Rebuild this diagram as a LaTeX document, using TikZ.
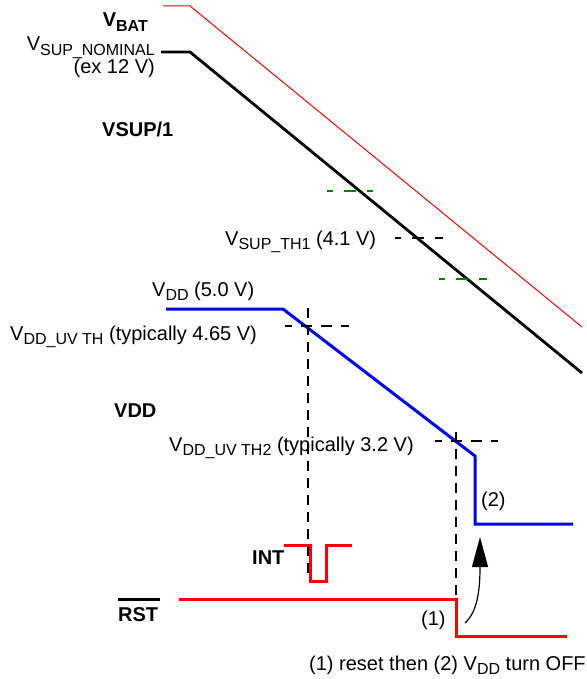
\documentclass[tikz,border=0pt]{standalone}
\usepackage{fontspec}
\setmainfont{Liberation Sans}
\usetikzlibrary{arrows.meta, calc}
\definecolor{markgreen}{RGB}{0,128,0}
% lowered subscript in the label font
\newcommand{\lsub}[1]{\raisebox{-4.5pt}{\fontsize{16}{16}\selectfont #1}}

\begin{document}
\begin{tikzpicture}[
    x=1pt, y=-1pt,
    every node/.style={font=\fontsize{20}{24}\selectfont, inner sep=0pt},
    % Signal traces
    vbat/.style={red, line width=1pt},
    vsup/.style={black, line width=2.8pt},
    vdd/.style={blue, line width=3pt},
    logic/.style={red, line width=3pt},
    % Threshold marks
    thmark/.style={line width=2pt, dash pattern=on 12pt off 11pt, dash phase=6pt},
    cross/.style={black, line width=2pt, dash pattern=on 11pt off 9pt, dash phase=4pt},
    guide/.style={black, line width=2pt, dash pattern=on 10pt off 7pt},
    lbl/.style={anchor=base west},
    lblr/.style={anchor=base east}
]
\useasboundingbox (0,0) rectangle (586,679);

% === SUPPLY TRACES ===

% VBAT (thin red)
\coordinate (bat0) at (163,6);
\coordinate (bat1) at (190,6);
\coordinate (bat2) at (582,327);
\draw[vbat] (bat0) -- (bat1) -- (bat2);

% VSUP (black)
\coordinate (sup0) at (161,52);
\coordinate (sup1) at (190,52);
\coordinate (sup2) at (582,373);
\draw[vsup] (sup0) -- (sup1) -- (sup2);

% Thresholds on VSUP
\coordinate (gA0) at (327,191);
\coordinate (gA1) at (373,191);
\coordinate (th0) at (395,238);
\coordinate (th1) at (443,238);
\coordinate (gB0) at (439,279);
\coordinate (gB1) at (487,279);
\draw[thmark, markgreen] (gA0) -- (gA1);
\draw[thmark, black] (th0) -- (th1);
\draw[thmark, markgreen] (gB0) -- (gB1);

% VDD (blue)
\coordinate (dd0) at (166,309);
\coordinate (dd1) at (283,309);
\coordinate (dd2) at (475,456);
\coordinate (dd3) at (475,524);
\coordinate (dd4) at (573,524);
\draw[vdd] (dd0) -- (dd1) -- (dd2) -- (dd3) -- (dd4);

% === UNDERVOLTAGE CROSSINGS ===

% first threshold
\coordinate (uvA0) at (285,326);
\coordinate (uvA1) at (349,326);
\coordinate (uvAtop) at (308,308);
\coordinate (uvAbot) at (308,578);
\draw[cross] (uvA0) -- (uvA1);
\draw[guide] (uvAtop) -- (uvAbot);

% second threshold
\coordinate (uvB0) at (435,441);
\coordinate (uvB1) at (498,441);
\coordinate (uvBtop) at (456,432);
\coordinate (uvBbot) at (456,603);
\draw[cross] (uvB0) -- (uvB1);
\draw[guide] (uvBtop) -- (uvBbot);

% === LOGIC OUTPUTS ===

% INT pulse
\coordinate (int0) at (284,545);
\coordinate (int1) at (310,545);
\coordinate (int2) at (310,581);
\coordinate (int3) at (326,581);
\coordinate (int4) at (326,545);
\coordinate (int5) at (352,545);
\draw[logic] (int0) -- (int1) -- (int2) -- (int3) -- (int4) -- (int5);

% RST falling edge
\coordinate (rst0) at (179,599);
\coordinate (rst1) at (456,599);
\coordinate (rst2) at (456,636);
\coordinate (rst3) at (567,636);
\draw[logic] (rst0) -- (rst1) -- (rst2) -- (rst3);

% sequence arrow (1) -> (2)
\coordinate (seqS) at (465,623);
\coordinate (seqE) at (480,537);
\draw[line width=1.2pt, -{Triangle[length=30pt, width=16pt]}]
    (seqS) .. controls (477,612) and (480,592) .. (seqE);

% === LABELS ===
\node[lblr] (lbat) at (148,27) {\textbf{V\lsub{BAT}}};
\node[lblr] (lnom) at (155,51) {V\lsub{SUP\_NOMINAL}};
\node[lblr] (lex) at (155,74) {(ex 12 V)};
\node[lbl] (lsup) at (102,137) {\textbf{VSUP/1}};
\node[lbl] (lth1) at (225,245) {V\lsub{SUP\_TH1} (4.1 V)};
\node[lbl] (ldd) at (152,296) {V\lsub{DD} (5.0 V)};
\node[lbl] (luv) at (10,340) {V\lsub{DD\_UV TH} (typically 4.65 V)};
\node[lbl] (lvdd) at (114,417) {\textbf{VDD}};
\node[lbl] (luv2) at (169,451) {V\lsub{DD\_UV TH2} (typically 3.2 V)};
\node[lbl] (ltwo) at (481,506) {(2)};
\node[lbl] (lint) at (252,564) {\textbf{INT}};
\node[lbl] (lrst) at (118,621) {\textbf{RST}};
\draw[line width=3pt] ($(lrst.north west)+(0,-7)$) -- ($(lrst.north east)+(2,-7)$);
\node[lbl] (lone) at (421,625) {(1)};
\node[lbl] (lnote) at (309,670) {(1) reset then (2) V\lsub{DD} turn OFF};

\end{tikzpicture}
\end{document}
